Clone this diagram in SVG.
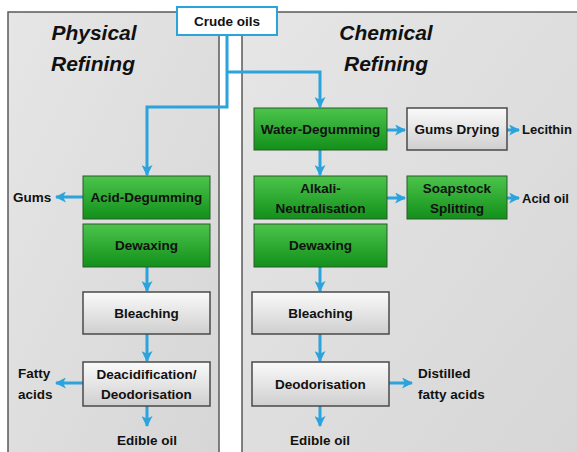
<svg xmlns="http://www.w3.org/2000/svg" width="577" height="452" viewBox="0 0 577 452">
<defs>
<linearGradient id="gGreen" x1="0" y1="0" x2="0" y2="1">
<stop offset="0" stop-color="#4cc44c"/>
<stop offset="1" stop-color="#12901a"/>
</linearGradient>
<linearGradient id="gGray" x1="0" y1="0" x2="0" y2="1">
<stop offset="0" stop-color="#fafafa"/>
<stop offset="1" stop-color="#cfcfcf"/>
</linearGradient>
<linearGradient id="gPanel" x1="0" y1="0" x2="1" y2="1">
<stop offset="0" stop-color="#e6e6e6"/>
<stop offset="1" stop-color="#d6d6d6"/>
</linearGradient>
<marker id="ah" viewBox="0 0 10 10" refX="9" refY="5" markerWidth="11" markerHeight="11" markerUnits="userSpaceOnUse" orient="auto">
<path d="M0,0 L10,5 L0,10 L2.5,5 z" fill="#2ba3dc"/>
</marker>
<style>
.panel{fill:url(#gPanel);stroke:#5a5a5a;stroke-width:1.5}
.green{fill:url(#gGreen);stroke:#2a5a2a;stroke-width:1}
.gray{fill:url(#gGray);stroke:#4a4a4a;stroke-width:1.5}
.t{font-family:"Liberation Sans",Arial,sans-serif;font-weight:bold;font-size:13.5px;fill:#111;text-anchor:middle}
.tl{font-family:"Liberation Sans",Arial,sans-serif;font-weight:bold;font-size:13.5px;fill:#111;text-anchor:start}
.title{font-family:"Liberation Sans",Arial,sans-serif;font-weight:bold;font-style:italic;font-size:21px;fill:#111;text-anchor:middle}
.c{fill:none;stroke:#2ba3dc;stroke-width:3;marker-end:url(#ah)}
</style>
</defs>
<rect width="577" height="452" fill="#ffffff"/>
<g id="panel-physical">
<rect class="panel" x="8" y="12" width="211" height="450"/>
<text class="title" x="94" y="40">Physical</text>
<text class="title" x="93" y="71">Refining</text>
</g>
<g id="panel-chemical">
<rect class="panel" x="242" y="12" width="345" height="450"/>
<text class="title" x="386" y="40">Chemical</text>
<text class="title" x="386" y="71">Refining</text>
</g>
<g id="connectors">
<path class="c" d="M227,35 V107 H147 V175"/>
<path class="c" d="M227,72 H320 V107"/>
<path class="c" d="M387,130 H405"/>
<path class="c" d="M507,130 H519"/>
<path class="c" d="M320,150 V175"/>
<path class="c" d="M387,198 H405"/>
<path class="c" d="M507,198 H519"/>
<path class="c" d="M320,267 V291"/>
<path class="c" d="M320,334 V361"/>
<path class="c" d="M389,383 H412"/>
<path class="c" d="M320,406 V426"/>
<path class="c" d="M83,197 H56"/>
<path class="c" d="M147,267 V291"/>
<path class="c" d="M147,334 V361"/>
<path class="c" d="M83,383 H56"/>
<path class="c" d="M147,406 V426"/>
</g>
<g id="crude-oils">
<rect x="177" y="7" width="100" height="28" fill="#ffffff" stroke="#2ba3dc" stroke-width="2"/>
<text class="t" x="227" y="26">Crude oils</text>
</g>
<g id="acid-degumming">
<rect class="green" x="83" y="176" width="127" height="43"/>
<text class="t" x="146.5" y="202">Acid-Degumming</text>
</g>
<g id="dewaxing-left">
<rect class="green" x="83" y="224" width="127" height="43"/>
<text class="t" x="146.5" y="250">Dewaxing</text>
</g>
<g id="bleaching-left">
<rect class="gray" x="83" y="292" width="127" height="42"/>
<text class="t" x="146.5" y="318">Bleaching</text>
</g>
<g id="deacidification">
<rect class="gray" x="83" y="362" width="127" height="44"/>
<text class="t" x="146.5" y="379">Deacidification/</text>
<text class="t" x="146.5" y="399">Deodorisation</text>
</g>
<g id="gums"><text class="tl" x="13" y="202">Gums</text></g>
<g id="fatty-acids">
<text class="tl" x="18" y="378">Fatty</text>
<text class="tl" x="18" y="399">acids</text>
</g>
<g id="edible-oil-left"><text class="t" x="147" y="445">Edible oil</text></g>
<g id="water-degumming">
<rect class="green" x="254" y="108" width="133" height="42"/>
<text class="t" x="320.5" y="134">Water-Degumming</text>
</g>
<g id="gums-drying">
<rect class="gray" x="407" y="108" width="100" height="42"/>
<text class="t" x="457" y="134">Gums Drying</text>
</g>
<g id="lecithin"><text class="tl" x="522" y="134" style="font-size:13px">Lecithin</text></g>
<g id="alkali-neutralisation">
<rect class="green" x="254" y="176" width="133" height="43"/>
<text class="t" x="320.5" y="193">Alkali-</text>
<text class="t" x="320.5" y="213">Neutralisation</text>
</g>
<g id="soapstock-splitting">
<rect class="green" x="407" y="176" width="100" height="43"/>
<text class="t" x="457" y="193">Soapstock</text>
<text class="t" x="457" y="213">Splitting</text>
</g>
<g id="acid-oil"><text class="tl" x="522" y="203" style="font-size:13px">Acid oil</text></g>
<g id="dewaxing-right">
<rect class="green" x="254" y="224" width="133" height="43"/>
<text class="t" x="320.5" y="250">Dewaxing</text>
</g>
<g id="bleaching-right">
<rect class="gray" x="252" y="292" width="137" height="42"/>
<text class="t" x="320.5" y="318">Bleaching</text>
</g>
<g id="deodorisation">
<rect class="gray" x="252" y="362" width="137" height="44"/>
<text class="t" x="320.5" y="389">Deodorisation</text>
</g>
<g id="distilled-fatty-acids">
<text class="tl" x="418" y="378">Distilled</text>
<text class="tl" x="418" y="399">fatty acids</text>
</g>
<g id="edible-oil-right"><text class="t" x="320" y="445">Edible oil</text></g>
</svg>
